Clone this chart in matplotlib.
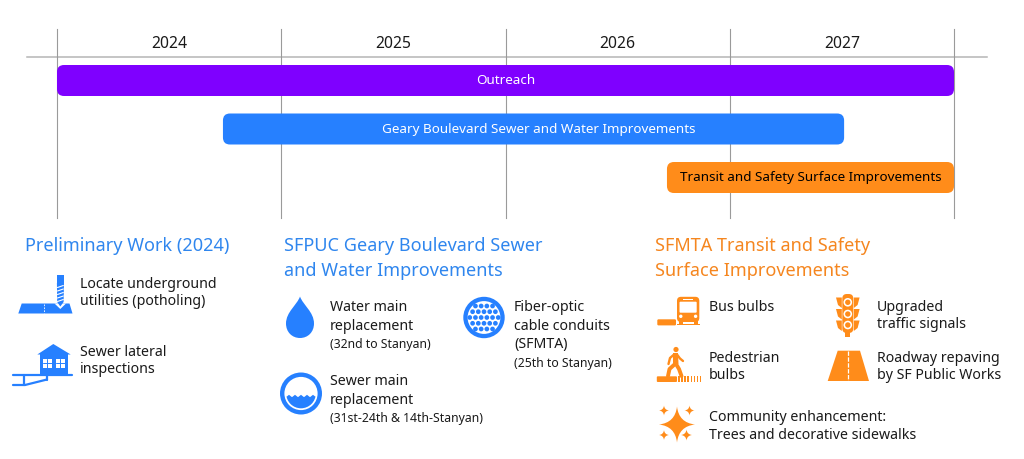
import matplotlib
matplotlib.use("Agg")
import matplotlib.pyplot as plt
from matplotlib.patches import Rectangle, Circle, Polygon, FancyBboxPatch, PathPatch
from matplotlib.path import Path

plt.rcParams["font.family"] = ["Noto Sans", "DejaVu Sans"]

# timeline data
years = [2024, 2025, 2026, 2027]
phases = ["Outreach", "Geary Boulevard Sewer and Water Improvements", "Transit and Safety Surface Improvements"]
phase_start = [2024.0, 2024.74, 2026.72]
phase_end = [2028.0, 2027.51, 2028.0]

PURPLE = "#7f00ff"
BLUE = "#2680ff"
HEAD_BLUE = "#2f86ee"
ORANGE = "#ff8c1a"
HEAD_ORANGE = "#f5861f"
TEXT = "#1a1a1a"

W, H = 1024, 459
fig = plt.figure(figsize=(W / 100, H / 100), dpi=100)

# everything outside the gantt is laid out in pixels
ax = fig.add_axes([0, 0, 1, 1])
ax.set_xlim(0, W)
ax.set_ylim(H, 0)
ax.axis("off")

# gantt axes, x in years, y in pixels
X0, X1 = 57, 954
gantt = fig.add_axes([X0 / W, 0, (X1 - X0) / W, 1])
gantt.set_xlim(2024, 2028)
gantt.set_ylim(H, 0)
gantt.axis("off")
gantt.patch.set_alpha(0)

px_per_year = (X1 - X0) / 4
ax.plot([27, 987], [57, 57], color="#b5b5b5", lw=1.1, zorder=1)
for y in years + [2028]:
    gantt.plot([y, y], [29, 218], color="#9a9a9a", lw=0.8, zorder=1, clip_on=False)
for y in years:
    gantt.text(y + 0.5, 44.5, str(y), ha="center", va="center", fontsize=11.3, color=TEXT)

row_top = [65, 113.5, 162]
row_h = 31
bar_colors = [PURPLE, BLUE, ORANGE]
label_colors = ["white", "white", "black"]
# the reference labels are not quite centred on their bars
label_nudge = [0, 5.5, 0.5]
for i, name in enumerate(phases):
    bar = FancyBboxPatch((phase_start[i], row_top[i]), phase_end[i] - phase_start[i], row_h,
                         boxstyle=f"round,pad=0,rounding_size={7 / px_per_year}",
                         mutation_aspect=px_per_year, fc=bar_colors[i], ec="none", zorder=2)
    gantt.add_patch(bar)
    gantt.text((phase_start[i] + phase_end[i]) / 2 + label_nudge[i] / px_per_year, row_top[i] + row_h / 2 + 0.5, name,
               ha="center", va="center", fontsize=9.7, color=label_colors[i], zorder=3)


def label(x, y, s, size=10.2, color=TEXT):
    ax.text(x, y + 1.3, s, ha="left", va="center", fontsize=size, color=color)


def poly(pts, color, z=3):
    ax.add_patch(Polygon(pts, closed=True, fc=color, ec="none", zorder=z))


def rect(x0, y0, x1, y1, color, z=3):
    ax.add_patch(Rectangle((x0, y0), x1 - x0, y1 - y0, fc=color, ec="none", zorder=z))


def rrect(x0, y0, x1, y1, r, color, z=3):
    ax.add_patch(FancyBboxPatch((x0, y0), x1 - x0, y1 - y0, boxstyle=f"round,pad=0,rounding_size={r}",
                                fc=color, ec="none", zorder=z))


def circ(x, y, r, color, z=3):
    c = Circle((x, y), r, fc=color, ec="none", zorder=z)
    ax.add_patch(c)
    return c


def line(xs, ys, color, lw, z=3, **kw):
    ax.plot(xs, ys, color=color, lw=lw, zorder=z, solid_capstyle="round", **kw)


def star(x, y, r):
    k = r * 0.1
    verts = [(x, y - r), (x + k, y - k), (x + r, y), (x + k, y + k), (x, y + r), (x - k, y + k), (x - r, y),
             (x - k, y - k), (x, y - r)]
    codes = [Path.MOVETO] + [Path.CURVE3] * 8
    ax.add_patch(PathPatch(Path(verts, codes), fc=ORANGE, ec="none", zorder=3))


# headings
label(25, 245, "Preliminary Work (2024)", 13.0, HEAD_BLUE)
label(284, 245, "SFPUC Geary Boulevard Sewer", 13.0, HEAD_BLUE)
label(284, 270, "and Water Improvements", 13.0, HEAD_BLUE)
label(655, 245, "SFMTA Transit and Safety", 13.0, HEAD_ORANGE)
label(655, 270, "Surface Improvements", 13.0, HEAD_ORANGE)

# left column
label(80, 283, "Locate underground")
label(80, 300, "utilities (potholing)")
label(80, 351, "Sewer lateral")
label(80, 368, "inspections")

# middle column
label(330, 306, "Water main")
label(330, 325, "replacement")
label(330, 343.5, "(32nd to Stanyan)", 8.8)
label(330, 380, "Sewer main")
label(330, 399, "replacement")
label(330, 417, "(31st-24th & 14th-Stanyan)", 8.8)
label(514, 306, "Fiber-optic")
label(514, 325, "cable conduits")
label(514, 343, "(SFMTA)")
label(514, 362, "(25th to Stanyan)", 8.8)

# right column
label(709, 306, "Bus bulbs")
label(877, 306, "Upgraded")
label(877, 323, "traffic signals")
label(709, 357, "Pedestrian")
label(709, 374, "bulbs")
label(877, 357, "Roadway repaving")
label(877, 374, "by SF Public Works")
label(709, 416, "Community enhancement:")
label(709, 434, "Trees and decorative sidewalks")

# drill icon
poly([(18.3, 313.5), (21.7, 303.5), (69.5, 303.5), (72.5, 313.5)], BLUE)
poly([(54.5, 303.5), (66, 303.5), (60.3, 309)], "white", z=4)
line([43.7, 43.7], [304, 313], "white", 0.6, z=4, linestyle=(0, (2, 1.5)))
rect(56.7, 275, 64.2, 283, BLUE, z=5)
poly([(56.9, 283), (64, 283), (63.6, 302), (60.3, 306.5), (57.2, 302)], BLUE, z=5)
for yy in [285.5, 289, 292.5, 296, 299.5]:
    line([57.5, 63.3], [yy + 2, yy], "white", 0.8, z=6)

# house icon
rect(40, 353, 68.3, 374, BLUE)
poly([(37.3, 354.5), (53.3, 344), (70.7, 354.5)], BLUE)
for wx in [42.7, 55.5]:
    rect(wx, 359, wx + 9.2, 367.8, "white", z=4)
    line([wx + 4.6, wx + 4.6], [359, 367.8], BLUE, 0.7, z=5)
    line([wx, wx + 9.2], [363.4, 363.4], BLUE, 0.7, z=5)
line([12.5, 71.5], [375, 375], BLUE, 1.6)
line([12.5, 25], [385, 385], BLUE, 1.6)
line([25, 47], [385, 379.5], BLUE, 1.6)
line([23.5, 23.5], [375, 385], BLUE, 1.6)
line([47, 47], [375, 379.5], BLUE, 1.6)

# water drop
drop = Path([(300, 296.5), (297, 305), (286, 312), (286, 323.5), (286, 332), (292, 338), (300, 338),
             (308, 338), (314, 332), (314, 323.5), (314, 312), (303, 305), (300, 296.5)],
            [Path.MOVETO] + [Path.CURVE4] * 12)
ax.add_patch(PathPatch(drop, fc=BLUE, ec="none", zorder=3))

# sewer pipe
circ(301, 393.5, 21, BLUE)
circ(301, 393.5, 16.6, "white", z=4)
water = circ(301, 393.5, 14.8, BLUE, z=5)
water.set_clip_path(Rectangle((280, 396.5), 42, 20, transform=ax.transData))
for wx in [289, 295, 301, 307, 313]:
    poly([(wx - 2.8, 397), (wx, 394.8), (wx + 2.8, 397)], BLUE, z=5)

# fiber conduit
circ(484, 317.5, 20.7, BLUE)
circ(484, 317.5, 16.4, "white", z=4)
for ry, n in [(-11.5, 4), (-5.8, 5), (0, 6), (5.8, 5), (11.5, 4)]:
    for k in range(n):
        circ(484 + (k - (n - 1) / 2) * 5.7, 317.5 + ry, 2.35, BLUE, z=5)

# bus icon
rrect(677, 296.8, 699.3, 322, 4, ORANGE)
rect(678.5, 320, 683, 325, ORANGE)
rect(693.5, 320, 698, 325, ORANGE)
rect(677, 324, 700, 325.4, ORANGE)
rrect(679.5, 301.7, 696.7, 312.7, 1, "white", z=4)
rect(683, 299, 693, 300, "white", z=4)
circ(680.8, 316.3, 1.7, "white", z=4)
circ(695.6, 316.3, 1.7, "white", z=4)
rrect(657.3, 319.3, 676, 325.4, 1.2, ORANGE)

# traffic signal icon
for ly in [300.5, 312, 323.5]:
    poly([(836, ly - 3), (841.8, ly - 3), (841.8, ly + 7.5), (838, ly + 4.5)], ORANGE)
    poly([(853.8, ly - 3), (859.6, ly - 3), (857.6, ly + 4.5), (853.8, ly + 7.5)], ORANGE)
rrect(842.3, 294, 853.3, 333, 4.5, ORANGE)
rect(845.3, 332, 850.3, 337, ORANGE)
for ly in [302.3, 314, 325]:
    circ(847.8, ly, 4.3, "white", z=4)
    circ(847.8, ly, 2.7, ORANGE, z=5)

# pedestrian icon
circ(676, 349.5, 2.6, ORANGE)
poly([(673, 353), (678, 353), (678.5, 364), (673, 365)], ORANGE)
line([675, 669.5, 668], [364, 369, 376], ORANGE, 2.8)
line([676, 679, 681.5], [364, 369, 376], ORANGE, 2.8)
line([677, 680, 683], [354.5, 358.5, 361], ORANGE, 1.7)
line([674, 670, 668.5], [354.5, 358, 364], ORANGE, 1.7)
rrect(656.8, 376.3, 677, 382, 1, ORANGE)
for k in range(8):
    rect(678.3 + k * 3.05, 376, 680 + k * 3.05, 382.3, ORANGE)

# road icon
poly([(827.7, 381), (837.7, 350.7), (860, 350.7), (869, 381)], ORANGE)
line([848.4, 848.4], [350.7, 381], "white", 0.9, z=4, linestyle=(0, (3.5, 1.2)))

# sparkles
star(677, 424.5, 18)
star(664, 410.5, 5)
star(689.5, 410.5, 5)
star(664, 435, 5)
star(686.5, 435, 5.5)

fig.savefig("out.png", dpi=100, facecolor="white")
